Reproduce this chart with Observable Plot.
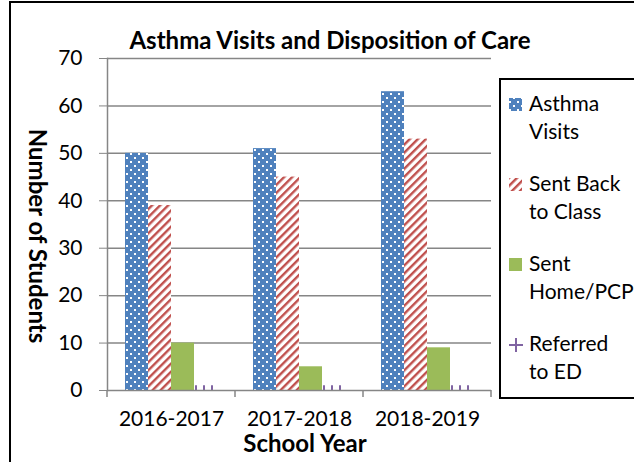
<!DOCTYPE html>
<html><head><meta charset="utf-8">
<script src="https://cdn.jsdelivr.net/npm/d3@7"></script>
<script src="https://cdn.jsdelivr.net/npm/@observablehq/plot@0.6"></script>
<style>body{margin:0;background:#fff} svg{display:block}</style>
</head><body><div id="chart"></div>
<script>
const years = ["2016-2017", "2017-2018", "2018-2019"];
const seriesNames = ["Asthma Visits", "Sent Back to Class", "Sent Home/PCP", "Referred to ED"];
const legendLines = [["Asthma", "Visits"], ["Sent Back", "to Class"], ["Sent", "Home/PCP"], ["Referred", "to ED"]];
const asthmaVisits = [50, 51, 63];
const sentBack = [39, 45, 53];
const sentHome = [10, 5, 9];
const referredED = [1, 1, 1];
const yTicks = [0, 10, 20, 30, 40, 50, 60, 70];
const title = "Asthma Visits and Disposition of Care";
const xTitle = "School Year";
const yTitle = "Number of Students";
const patternIds = ["pDots", "pStripes", "pSolid", "pPlus"];

const seriesValues = [asthmaVisits, sentBack, sentHome, referredED];
const data = years.flatMap((yr, i) => seriesNames.map((s, j) => ({year: yr, series: s, value: seriesValues[j][i]})));

const FONT = "Lato, 'Open Sans', sans-serif";
const GRAY = "#868686";

const chart = Plot.plot({
  width: 634, height: 462,
  marginLeft: 106, marginRight: 142, marginTop: 58, marginBottom: 72,
  style: {fontFamily: FONT, fontSize: "21px", color: "#000", background: "#fff"},
  fx: {domain: years, padding: 0, label: null, axis: "bottom", tickSize: 0, tickPadding: 21},
  x: {domain: seriesNames, paddingInner: 0, paddingOuter: 0.7, axis: null},
  y: {domain: [0, 70], ticks: yTicks, label: null, axis: null},
  color: {domain: seriesNames, range: patternIds.map(id => `url(#${id})`)},
  marks: [
    Plot.gridY(yTicks.filter(v => v > 0), {stroke: GRAY, strokeOpacity: 1, strokeWidth: 1.5}),
    Plot.barY(data, {fx: "year", x: "series", y: "value", fill: "series"}),
    Plot.ruleY([0], {stroke: GRAY, strokeWidth: 1.5}),
    Plot.frame({anchor: "left", facetAnchor: "left", stroke: GRAY, strokeWidth: 1.5}),
    Plot.axisY(yTicks, {tickSize: 8, tickPadding: 17, stroke: GRAY, fill: "#000", label: null, fontSize: 21})
  ]
});

const svg = d3.select(chart);
const defs = svg.insert("defs", ":first-child");
// blue dotted
const p1 = defs.append("pattern").attr("id", "pDots").attr("patternUnits", "userSpaceOnUse").attr("width", 8).attr("height", 8);
p1.append("rect").attr("width", 8).attr("height", 8).attr("fill", "#4F81BD");
p1.append("rect").attr("x", 1).attr("y", 1).attr("width", 2).attr("height", 2).attr("fill", "#fff");
p1.append("rect").attr("x", 5).attr("y", 5).attr("width", 2).attr("height", 2).attr("fill", "#fff");
// red diagonal stripes
const p2 = defs.append("pattern").attr("id", "pStripes").attr("patternUnits", "userSpaceOnUse")
  .attr("width", 5.7).attr("height", 5.7).attr("patternTransform", "rotate(45)");
p2.append("rect").attr("width", 5.7).attr("height", 5.7).attr("fill", "#fff");
p2.append("rect").attr("width", 2.4).attr("height", 5.7).attr("fill", "#C0504D");
// green solid
const p3 = defs.append("pattern").attr("id", "pSolid").attr("patternUnits", "userSpaceOnUse").attr("width", 8).attr("height", 8);
p3.append("rect").attr("width", 8).attr("height", 8).attr("fill", "#9BBB59");
// purple plus
const p4 = defs.append("pattern").attr("id", "pPlus").attr("patternUnits", "userSpaceOnUse").attr("width", 8).attr("height", 8);
p4.append("rect").attr("width", 8).attr("height", 8).attr("fill", "#fff");
p4.append("rect").attr("x", 2).attr("width", 2).attr("height", 8).attr("fill", "#8064A2");

// category boundary ticks
const fx = chart.scale("fx");
const y = chart.scale("y");
const y0 = y.apply(0);
const bounds = years.map(d => fx.apply(d)).concat([fx.apply(years[years.length - 1]) + fx.bandwidth]);
svg.append("g").selectAll("line").data(bounds).join("line")
  .attr("x1", d => d).attr("x2", d => d).attr("y1", y0).attr("y2", y0 + 7)
  .attr("stroke", GRAY).attr("stroke-width", 1.5);

// outer border
svg.append("rect").attr("x", 10).attr("y", 2).attr("width", 1000).attr("height", 1000)
  .attr("fill", "none").attr("stroke", "#000").attr("stroke-width", 2);

// title
svg.append("text").attr("x", 330).attr("y", 49).attr("text-anchor", "middle")
  .attr("font-family", FONT).attr("font-size", 24).attr("font-weight", "bold").attr("fill", "#000").text(title);
// axis titles
svg.append("text").attr("x", 305).attr("y", 452).attr("text-anchor", "middle")
  .attr("font-family", FONT).attr("font-size", 24).attr("font-weight", "bold").attr("fill", "#000").text(xTitle);
svg.append("text").attr("transform", "translate(29,236) rotate(90)").attr("text-anchor", "middle")
  .attr("font-family", FONT).attr("font-size", 24).attr("font-weight", "bold").attr("fill", "#000").text(yTitle);

// legend
const lg = svg.append("g");
lg.append("rect").attr("x", 500).attr("y", 79).attr("width", 200).attr("height", 319)
  .attr("fill", "#fff").attr("stroke", "#000").attr("stroke-width", 2);
const color = chart.scale("color");
seriesNames.forEach((s, i) => {
  const top = 98 + i * 80;
  if (i === 3) {
    lg.append("line").attr("x1", 509).attr("x2", 523).attr("y1", top + 7).attr("y2", top + 7).attr("stroke", "#8064A2").attr("stroke-width", 2);
    lg.append("line").attr("x1", 516).attr("x2", 516).attr("y1", top).attr("y2", top + 14).attr("stroke", "#8064A2").attr("stroke-width", 2);
  } else {
    lg.append("rect").attr("x", 509).attr("y", top).attr("width", 13).attr("height", 13).attr("fill", color.apply(s));
  }
  legendLines[i].forEach((ln, k) => {
    lg.append("text").attr("x", 529).attr("y", top + 13 + k * 28).attr("text-anchor", "start")
      .attr("font-family", FONT).attr("font-size", 21).attr("fill", "#000").text(ln);
  });
});

document.getElementById("chart").append(chart);
</script>
</body></html>
